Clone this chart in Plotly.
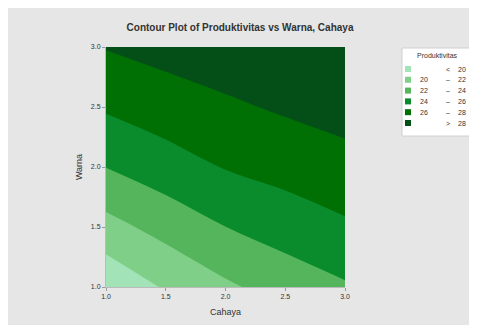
import plotly.graph_objects as go

# Data
cahaya = [1.0, 1.5, 2.0, 2.5, 3.0]          # x
warna = [1.0, 1.5, 2.0, 2.5, 3.0]           # y
produktivitas = [                             # rows follow warna
    [18.4, 20.21, 21.67, 22.86, 23.78],
    [21.33, 22.71, 23.99, 24.89, 25.71],
    [24.03, 25.13, 26.10, 26.71, 27.31],
    [26.25, 27.03, 27.68, 28.26, 28.77],
    [28.10, 28.68, 29.16, 29.65, 30.07],
]
level_low = ["", "20", "22", "24", "26", ""]
level_sep = ["<", "–", "–", "–", "–", ">"]
level_high = ["20", "22", "24", "26", "28", "28"]
tick_vals = [1.0, 1.5, 2.0, 2.5, 3.0]
tick_text = ["1.0", "1.5", "2.0", "2.5", "3.0"]

band_colors = ["#a2e3b8", "#80cf88", "#55b55c", "#0a8c2c", "#006f04", "#044f17"]

# stepped colorscale so every band gets one flat colour
cs = []
edges = [0.0, 0.2, 0.4, 0.6, 0.8, 0.95, 1.0]
for i, c in enumerate(band_colors):
    cs.append([edges[i], c])
    cs.append([edges[i + 1], c])

fig = go.Figure()
fig.add_trace(go.Contour(
    x=cahaya, y=warna, z=produktivitas,
    colorscale=cs, showscale=False,
    contours=dict(start=20, end=28, size=2, coloring="fill", showlines=False),
    line=dict(width=0),
    hoverinfo="skip",
))

OFF = 8  # page body margin
W, H = 477, 325
L, R, T, B = 98, 140, 39, 46
pw, ph = W - L - R, H - T - B

def px_x(px):  # px given in page (screenshot) coordinates
    return (px - OFF - L) / pw

def px_y(py):
    return (H - B - (py - OFF)) / ph

shapes = [
    dict(type="rect", xref="paper", yref="paper",
         x0=px_x(402), x1=px_x(471), y0=px_y(136), y1=px_y(48),
         fillcolor="white", line=dict(color="#d0d0d0", width=1)),
]
annotations = [
    dict(text="Produktivitas", xref="paper", yref="paper", x=px_x(437), y=px_y(56),
         showarrow=False, font=dict(size=7, color="#333"), xanchor="center", yanchor="middle"),
]
row_y0, row_dy = 69, 10.8
for i, c in enumerate(band_colors):
    yc = row_y0 + i * row_dy
    shapes.append(dict(type="rect", xref="paper", yref="paper",
                       x0=px_x(405), x1=px_x(411), y0=px_y(yc + 3), y1=px_y(yc - 3),
                       fillcolor=c, line=dict(width=0)))
    for txt, xx in ((level_low[i], 424), (level_sep[i], 448), (level_high[i], 462)):
        if txt:
            annotations.append(dict(text=txt, xref="paper", yref="paper", x=px_x(xx), y=px_y(yc),
                                    showarrow=False, font=dict(size=7, color="#333"),
                                    xanchor="center", yanchor="middle"))

fig.update_layout(
    width=W, height=H,
    margin=dict(l=L, r=R, t=T, b=B),
    paper_bgcolor="#e6e6e6",
    plot_bgcolor="#e6e6e6",
    font=dict(family="Liberation Sans, Arial, sans-serif", color="#333"),
    title=dict(text="<b>Contour Plot of Produktivitas vs Warna, Cahaya</b>",
               x=(240 - OFF) / W, y=1 - (27 - OFF) / H, xanchor="center", yanchor="middle",
               font=dict(size=10, color="#333")),
    shapes=shapes,
    annotations=annotations,
    showlegend=False,
)
fig.update_xaxes(range=[1, 3], tickvals=tick_vals, ticktext=tick_text,
                 ticks="outside", ticklen=3, tickcolor="#999", tickfont=dict(size=7),
                 showgrid=False, zeroline=False, showline=True, linecolor="#bbb",
                 title=dict(text="Cahaya", font=dict(size=9), standoff=9))
fig.update_yaxes(range=[1, 3], tickvals=tick_vals, ticktext=tick_text,
                 ticks="outside", ticklen=3, tickcolor="#999", tickfont=dict(size=7),
                 showgrid=False, zeroline=False, showline=True, linecolor="#bbb",
                 title=dict(text="Warna", font=dict(size=9), standoff=6))

fig.write_html("out.html")
